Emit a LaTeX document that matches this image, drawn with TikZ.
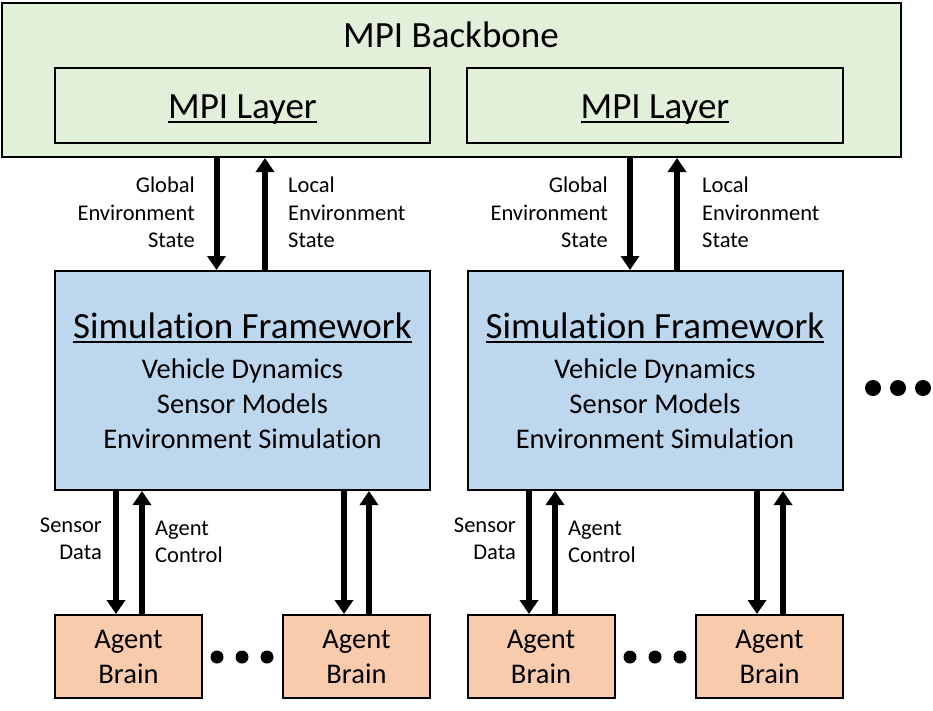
\documentclass[tikz,border=0pt]{standalone}
\usepackage{fontspec}
\setmainfont{Carlito}[Ligatures={NoCommon,NoContextual}]
\usetikzlibrary{arrows.meta}
\definecolor{bbgreen}{HTML}{E2F0D9}
\definecolor{sfblue}{HTML}{BDD7EE}
\definecolor{aborange}{HTML}{F8CBAD}
\newcommand\myul[1]{\setbox0=\hbox{#1}\rlap{\rule[-0.14em]{\wd0}{0.055em}}\box0}
\begin{document}
\begin{tikzpicture}[x=1pt,y=-1pt,
  box/.style={draw=black,line width=2pt,inner sep=0pt},
  arr/.style={line width=6pt,-{Triangle[width=18pt,length=14pt]}},
  bigtext/.style={font=\fontsize{37}{44}\selectfont,inner sep=0pt},
  bodytext/.style={font=\fontsize{28.5}{35}\selectfont,inner sep=0pt},
  lbl/.style={font=\fontsize{22.5}{27.5}\selectfont,inner sep=0pt},
  dot/.style={fill=black}]
\useasboundingbox (0,0) rectangle (933,710);
% backbone
\node[box,fill=bbgreen,minimum width=899pt,minimum height=154pt] (bb) at (451,80) {};
\node[bigtext,anchor=base] (bbt) at (451,47) {MPI Backbone};
\node[box,fill=bbgreen,minimum width=375pt,minimum height=75pt] (m1) at (242.5,105.5) {};
\node[bigtext,anchor=base] (m1t) at (242.5,118) {\myul{MPI Layer}};
\node[box,fill=bbgreen,minimum width=376pt,minimum height=75pt] (m2) at (655,105.5) {};
\node[bigtext,anchor=base] (m2t) at (655,118) {\myul{MPI Layer}};
% simulation frameworks
\foreach \n/\cx in {s1/242.5,s2/655}{
  \node[box,fill=sfblue,minimum width=375pt,minimum height=219pt] (\n) at (\cx,380.5) {};
  \node[bigtext,anchor=base] (\n t) at (\cx,338) {\myul{Simulation Framework}};
  \node[bodytext,anchor=base] (\n a) at (\cx,378) {Vehicle Dynamics};
  \node[bodytext,anchor=base] (\n b) at (\cx,413) {Sensor Models};
  \node[bodytext,anchor=base] (\n c) at (\cx,448) {Environment Simulation};
}
% agent brains
\foreach \n/\cx in {a1/128.5,a2/356.5,a3/541,a4/769.5}{
  \node[box,fill=aborange,minimum width=147pt,minimum height=83pt,bodytext,align=center] (\n) at (\cx,656.5) {Agent\\Brain};
}
% arrows top
\draw[arr] ([xshift=-26pt]s1.north |- bb.south) -- ([xshift=-26pt]s1.north);
\draw[arr] ([xshift=22.5pt]s1.north) -- ([xshift=22.5pt]s1.north |- bb.south);
\draw[arr] ([xshift=-25pt]s2.north |- bb.south) -- ([xshift=-25pt]s2.north);
\draw[arr] ([xshift=22pt]s2.north) -- ([xshift=22pt]s2.north |- bb.south);
% arrows bottom
\draw[arr] ([xshift=-12.5pt]a1.north |- s1.south) -- ([xshift=-12.5pt]a1.north);
\draw[arr] ([xshift=13.5pt]a1.north) -- ([xshift=13.5pt]a1.north |- s1.south);
\draw[arr] ([xshift=-12.5pt]a2.north |- s1.south) -- ([xshift=-12.5pt]a2.north);
\draw[arr] ([xshift=12.5pt]a2.north) -- ([xshift=12.5pt]a2.north |- s1.south);
\draw[arr] ([xshift=-12pt]a3.north |- s2.south) -- ([xshift=-12pt]a3.north);
\draw[arr] ([xshift=14pt]a3.north) -- ([xshift=14pt]a3.north |- s2.south);
\draw[arr] ([xshift=-12.5pt]a4.north |- s2.south) -- ([xshift=-12.5pt]a4.north);
\draw[arr] ([xshift=13.5pt]a4.north) -- ([xshift=13.5pt]a4.north |- s2.south);
% labels
\node[lbl,align=right,anchor=east] (g1) at (195,212.7) {Global\\Environment\\State};
\node[lbl,align=left,anchor=west] (l1) at (288,212.7) {Local\\Environment\\State};
\node[lbl,align=right,anchor=east] (g2) at (608,212.7) {Global\\Environment\\State};
\node[lbl,align=left,anchor=west] (l2) at (702,212.7) {Local\\Environment\\State};
\node[lbl,align=right,anchor=east] (sd1) at (102,539) {Sensor\\Data};
\node[lbl,align=left,anchor=west] (ac1) at (155,542) {Agent\\Control};
\node[lbl,align=right,anchor=east] (sd2) at (516,539) {Sensor\\Data};
\node[lbl,align=left,anchor=west] (ac2) at (568,542) {Agent\\Control};
% dots
\foreach \x in {217,242,267,630,655,680}{\fill[dot] (\x,657) circle (6.5pt);}
\foreach \x in {873,898,923}{\fill[dot] (\x,388) circle (8pt);}
\end{tikzpicture}
\end{document}
